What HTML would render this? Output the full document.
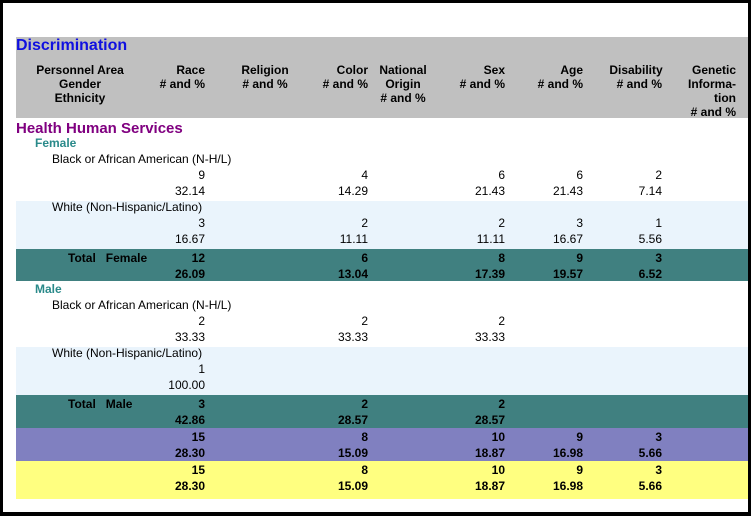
<!DOCTYPE html>
<html><head><style>
html,body{margin:0;padding:0}
body{width:751px;height:516px;position:relative;background:#000;font-family:"Liberation Sans",Arial,sans-serif;font-size:12px;overflow:hidden}
#in{position:absolute;left:3px;top:3px;width:745px;height:509px;background:#fff}
.b{position:absolute;left:16px;width:732px}
.t{position:absolute;white-space:nowrap;line-height:14px}
.v{line-height:16px}
.r{text-align:right}
.bd{font-weight:bold}
</style></head><body>
<div id="in"></div>
<div class="b" style="top:37px;height:81px;background:#c0c0c0"></div>
<div class="b" style="top:201px;height:48px;background:#eaf4fc"></div>
<div class="b" style="top:249px;height:32px;background:#408080"></div>
<div class="b" style="top:347px;height:48px;background:#eaf4fc"></div>
<div class="b" style="top:395px;height:33px;background:#408080"></div>
<div class="b" style="top:428px;height:33px;background:#8080c0"></div>
<div class="b" style="top:461px;height:38px;background:#ffff80"></div>

<div class="t bd" style="left:16px;top:37px;font-size:16px;line-height:18px;color:#1010e0">Discrimination</div>
<div class="t bd" style="left:30px;top:63px;width:100px;text-align:center">Personnel Area<br>Gender<br>Ethnicity</div>
<div class="t bd r" style="left:105px;top:63px;width:100px">Race<br># and %</div>
<div class="t bd" style="left:222px;top:63px;width:86px;text-align:center">Religion<br># and %</div>
<div class="t bd r" style="left:268px;top:63px;width:100px">Color<br># and %</div>
<div class="t bd" style="left:370px;top:63px;width:66px;text-align:center">National<br>Origin<br># and %</div>
<div class="t bd r" style="left:405px;top:63px;width:100px">Sex<br># and %</div>
<div class="t bd r" style="left:483px;top:63px;width:100px">Age<br># and %</div>
<div class="t bd" style="left:600px;top:63px;width:72px;text-align:center">Disability<br>&nbsp;&nbsp;# and %</div>
<div class="t bd r" style="left:636px;top:63px;width:100px">Genetic<br>Informa-<br>tion<br># and %</div>

<div class="t bd" style="left:16px;top:120px;font-size:15px;line-height:17px;color:#800080">Health Human Services</div>
<div class="t bd" style="left:35px;top:136px;color:#2a8a8a">Female</div>
<div class="t" style="left:52px;top:152px">Black or African American (N-H/L)</div>
<div class="t" style="left:52px;top:200px">White (Non-Hispanic/Latino)</div>
<div class="t bd" style="left:68px;top:251px">Total&nbsp;&nbsp;&nbsp;Female</div>
<div class="t bd" style="left:35px;top:282px;color:#2a8a8a">Male</div>
<div class="t" style="left:52px;top:298px">Black or African American (N-H/L)</div>
<div class="t" style="left:52px;top:346px">White (Non-Hispanic/Latino)</div>
<div class="t bd" style="left:68px;top:397px">Total&nbsp;&nbsp;&nbsp;Male</div>

<!-- Race -->
<div class="t v r" style="left:145px;top:167px;width:60px">9<br>32.14</div>
<div class="t v r" style="left:145px;top:215px;width:60px">3<br>16.67</div>
<div class="t v r bd" style="left:145px;top:250px;width:60px">12<br>26.09</div>
<div class="t v r" style="left:145px;top:313px;width:60px">2<br>33.33</div>
<div class="t v r" style="left:145px;top:361px;width:60px">1<br>100.00</div>
<div class="t v r bd" style="left:145px;top:396px;width:60px">3<br>42.86</div>
<div class="t v r bd" style="left:145px;top:429px;width:60px">15<br>28.30</div>
<div class="t v r bd" style="left:145px;top:462px;width:60px">15<br>28.30</div>
<!-- Color -->
<div class="t v r" style="left:308px;top:167px;width:60px">4<br>14.29</div>
<div class="t v r" style="left:308px;top:215px;width:60px">2<br>11.11</div>
<div class="t v r bd" style="left:308px;top:250px;width:60px">6<br>13.04</div>
<div class="t v r" style="left:308px;top:313px;width:60px">2<br>33.33</div>
<div class="t v r bd" style="left:308px;top:396px;width:60px">2<br>28.57</div>
<div class="t v r bd" style="left:308px;top:429px;width:60px">8<br>15.09</div>
<div class="t v r bd" style="left:308px;top:462px;width:60px">8<br>15.09</div>
<!-- Sex -->
<div class="t v r" style="left:445px;top:167px;width:60px">6<br>21.43</div>
<div class="t v r" style="left:445px;top:215px;width:60px">2<br>11.11</div>
<div class="t v r bd" style="left:445px;top:250px;width:60px">8<br>17.39</div>
<div class="t v r" style="left:445px;top:313px;width:60px">2<br>33.33</div>
<div class="t v r bd" style="left:445px;top:396px;width:60px">2<br>28.57</div>
<div class="t v r bd" style="left:445px;top:429px;width:60px">10<br>18.87</div>
<div class="t v r bd" style="left:445px;top:462px;width:60px">10<br>18.87</div>
<!-- Age -->
<div class="t v r" style="left:523px;top:167px;width:60px">6<br>21.43</div>
<div class="t v r" style="left:523px;top:215px;width:60px">3<br>16.67</div>
<div class="t v r bd" style="left:523px;top:250px;width:60px">9<br>19.57</div>
<div class="t v r bd" style="left:523px;top:429px;width:60px">9<br>16.98</div>
<div class="t v r bd" style="left:523px;top:462px;width:60px">9<br>16.98</div>
<!-- Disability -->
<div class="t v r" style="left:602px;top:167px;width:60px">2<br>7.14</div>
<div class="t v r" style="left:602px;top:215px;width:60px">1<br>5.56</div>
<div class="t v r bd" style="left:602px;top:250px;width:60px">3<br>6.52</div>
<div class="t v r bd" style="left:602px;top:429px;width:60px">3<br>5.66</div>
<div class="t v r bd" style="left:602px;top:462px;width:60px">3<br>5.66</div>
</body></html>
